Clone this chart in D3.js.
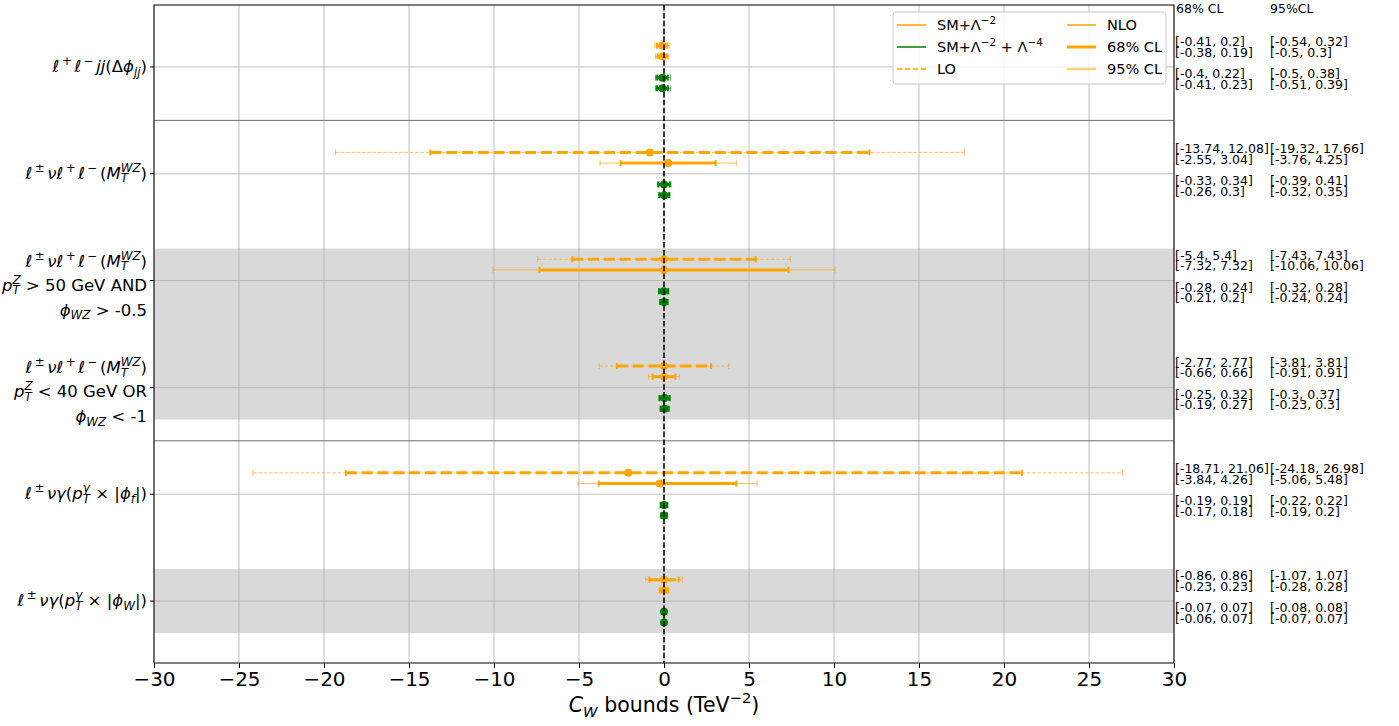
<!DOCTYPE html>
<html>
<head>
<meta charset="utf-8">
<script src="https://cdn.jsdelivr.net/npm/d3@7"></script>
<style>
body { margin: 0; background: #fff; }
text { font-family: "DejaVu Sans", sans-serif; fill: #000; }
</style>
</head>
<body>
<svg id="chart" width="1399" height="726"></svg>
<script>
// intervals, one entry per category (top to bottom)
var lo68 = [[-0.41, 0.2], [-13.74, 12.08], [-5.4, 5.4], [-2.77, 2.77], [-18.71, 21.06], [-0.86, 0.86]];
var lo95 = [[-0.54, 0.32], [-19.32, 17.66], [-7.43, 7.43], [-3.81, 3.81], [-24.18, 26.98], [-1.07, 1.07]];
var nlo68 = [[-0.38, 0.19], [-2.55, 3.04], [-7.32, 7.32], [-0.66, 0.66], [-3.84, 4.26], [-0.23, 0.23]];
var nlo95 = [[-0.5, 0.3], [-3.76, 4.25], [-10.06, 10.06], [-0.91, 0.91], [-5.06, 5.48], [-0.28, 0.28]];
var quadLo68 = [[-0.4, 0.22], [-0.33, 0.34], [-0.28, 0.24], [-0.25, 0.32], [-0.19, 0.19], [-0.07, 0.07]];
var quadLo95 = [[-0.5, 0.38], [-0.39, 0.41], [-0.32, 0.28], [-0.3, 0.37], [-0.22, 0.22], [-0.08, 0.08]];
var quadNlo68 = [[-0.41, 0.23], [-0.26, 0.3], [-0.21, 0.2], [-0.19, 0.27], [-0.17, 0.18], [-0.06, 0.07]];
var quadNlo95 = [[-0.51, 0.39], [-0.32, 0.35], [-0.24, 0.24], [-0.23, 0.3], [-0.19, 0.2], [-0.07, 0.07]];
// best fit points (estimated from the dots)
var loBest = [-0.1, -0.83, 0, 0, -2.1, 0];
var nloBest = [-0.1, 0.25, 0, 0, -0.25, 0];
var quadLoBest = [-0.09, 0, -0.02, 0.03, 0, 0];
var quadNloBest = [-0.09, 0.02, 0, 0.04, 0, 0];

var xTicks = [-30, -25, -20, -15, -10, -5, 0, 5, 10, 15, 20, 25, 30];
var groupSeparators = [0.5, 3.5];
var shadedBands = [[1.7, 3.3], [4.7, 5.3]];

// category labels, each line is a list of tokens
var lepMT = [{t: "ℓ", it: 1}, {t: "±", pos: "sup"}, {t: "ν", it: 1}, {t: "ℓ", it: 1}, {t: "+", pos: "sup"}, {t: "ℓ", it: 1}, {t: "−", pos: "sup"},
  {t: "("}, {t: "M", it: 1}, {sub: {t: "T", it: 1}, sup: {t: "WZ", it: 1}}, {t: ")"}];
var catLabels = [
  [[{t: "ℓ", it: 1}, {t: "+", pos: "sup"}, {t: "ℓ", it: 1}, {t: "−", pos: "sup"}, {t: "jj", it: 1}, {t: "(Δ"}, {t: "ϕ", it: 1}, {t: "jj", it: 1, pos: "sub"}, {t: ")"}]],
  [lepMT],
  [lepMT, [{t: "p", it: 1}, {sub: {t: "T", it: 1}, sup: {t: "Z", it: 1}}, {t: " > 50 GeV AND"}], [{t: "ϕ", it: 1}, {t: "WZ", it: 1, pos: "sub"}, {t: " > -0.5"}]],
  [lepMT, [{t: "p", it: 1}, {sub: {t: "T", it: 1}, sup: {t: "Z", it: 1}}, {t: " < 40 GeV OR"}], [{t: "ϕ", it: 1}, {t: "WZ", it: 1, pos: "sub"}, {t: " < -1"}]],
  [[{t: "ℓ", it: 1}, {t: "±", pos: "sup"}, {t: "νγ", it: 1}, {t: "("}, {t: "p", it: 1}, {sub: {t: "T", it: 1}, sup: {t: "γ", it: 1}}, {t: " × |"}, {t: "ϕ", it: 1}, {t: "f", it: 1, pos: "sub"}, {t: "|)"}]],
  [[{t: "ℓ", it: 1}, {t: "±", pos: "sup"}, {t: "νγ", it: 1}, {t: "("}, {t: "p", it: 1}, {sub: {t: "T", it: 1}, sup: {t: "γ", it: 1}}, {t: " × |"}, {t: "ϕ", it: 1}, {t: "W", it: 1, pos: "sub"}, {t: "|)"}]]
];

var orange = "#ffa500", green = "#008000";

var svg = d3.select("#chart");
var margin = {left: 154, right: 1174, top: 5, bottom: 663};

var x = d3.scaleLinear().domain([-30, 30]).range([margin.left, margin.right]);
var y = d3.scaleLinear().domain([-0.58, 5.58]).range([margin.top, margin.bottom]);

// little rich text helper (italic, super and subscripts)
function rich(parent, tokens, size, supGap) {
  var g = parent.append("g");
  var cx = 0;
  supGap = supGap || 0;
  function piece(tk, px, pos) {
    var fs = pos ? size * 0.72 : size;
    var dy = pos == "sup" ? -0.42 * size : (pos == "sub" ? 0.22 * size : 0);
    var el = g.append("text").attr("x", px).attr("y", dy)
      .style("font-size", fs + "px")
      .style("font-style", tk.it ? "italic" : "normal")
      .attr("xml:space", "preserve")
      .text(tk.t);
    return el.node().getComputedTextLength();
  }
  tokens.forEach(function (tk) {
    if (tk.sub || tk.sup) {
      var w1 = piece(tk.sub, cx, "sub");
      var w2 = piece(tk.sup, cx, "sup");
      cx += Math.max(w1, w2);
    } else if (tk.pos == "sup") {
      cx += supGap;
      cx += piece(tk, cx, tk.pos) + supGap;
    } else {
      cx += piece(tk, cx, tk.pos);
    }
  });
  return {g: g, width: cx};
}

// shaded bands
svg.append("g").selectAll("rect").data(shadedBands).enter().append("rect")
  .attr("x", margin.left).attr("width", margin.right - margin.left)
  .attr("y", function (d) { return y(d[0]); })
  .attr("height", function (d) { return y(d[1]) - y(d[0]); })
  .attr("fill", "#d9d9d9");

// grid
var grid = svg.append("g").attr("stroke", "#b0b0b0").attr("stroke-width", 0.8);
grid.selectAll("line.v").data(xTicks).enter().append("line")
  .attr("x1", function (d) { return x(d); }).attr("x2", function (d) { return x(d); })
  .attr("y1", margin.top).attr("y2", margin.bottom);
grid.selectAll("line.h").data(d3.range(catLabels.length)).enter().append("line")
  .attr("x1", margin.left).attr("x2", margin.right)
  .attr("y1", function (d) { return y(d); }).attr("y2", function (d) { return y(d); });

svg.append("g").selectAll("line").data(groupSeparators).enter().append("line")
  .attr("x1", margin.left).attr("x2", margin.right)
  .attr("y1", function (d) { return y(d); }).attr("y2", function (d) { return y(d); })
  .attr("stroke", "#6e6e6e").attr("stroke-width", 1);

// error bars
var bars = svg.append("g");
function errRow(yv, c68, c95, best, color, dashed) {
  var yp = y(yv);
  bars.append("line").attr("x1", x(c95[0])).attr("x2", x(c95[1])).attr("y1", yp).attr("y2", yp)
    .attr("stroke", color).attr("stroke-width", 1).attr("stroke-opacity", 0.65)
    .attr("stroke-dasharray", dashed ? "3.7,1.6" : null);
  c95.forEach(function (v) {
    bars.append("line").attr("x1", x(v)).attr("x2", x(v)).attr("y1", yp - 3).attr("y2", yp + 3)
      .attr("stroke", color).attr("stroke-width", 1).attr("stroke-opacity", 0.65);
  });
  bars.append("line").attr("x1", x(c68[0])).attr("x2", x(c68[1])).attr("y1", yp).attr("y2", yp)
    .attr("stroke", color).attr("stroke-width", 3)
    .attr("stroke-dasharray", dashed ? "11,4.8" : null);
  c68.forEach(function (v) {
    bars.append("line").attr("x1", x(v)).attr("x2", x(v)).attr("y1", yp - 3).attr("y2", yp + 3)
      .attr("stroke", color).attr("stroke-width", 2);
  });
  bars.append("circle").attr("cx", x(best)).attr("cy", yp).attr("r", 4).attr("fill", color);
}

function fmt(c) { return "[" + c[0] + ", " + c[1] + "]"; }
var side = svg.append("g").style("font-size", "12.5px");

catLabels.forEach(function (lab, i) {
  var rows = [
    [i - 0.2, lo68[i], lo95[i], loBest[i], orange, true],
    [i - 0.1, nlo68[i], nlo95[i], nloBest[i], orange, false],
    [i + 0.1, quadLo68[i], quadLo95[i], quadLoBest[i], green, true],
    [i + 0.2, quadNlo68[i], quadNlo95[i], quadNloBest[i], green, false]
  ];
  rows.forEach(function (r) {
    errRow(r[0], r[1], r[2], r[3], r[4], r[5]);
    side.append("text").attr("x", 1175).attr("y", y(r[0]) + 0.5).text(fmt(r[1]));
    side.append("text").attr("x", 1270).attr("y", y(r[0]) + 0.5).text(fmt(r[2]));
  });
});

side.append("text").attr("x", 1176).attr("y", 13).text("68% CL");
side.append("text").attr("x", 1270).attr("y", 13).text("95%CL");

// zero line
svg.append("line").attr("x1", x(0)).attr("x2", x(0)).attr("y1", margin.top).attr("y2", margin.bottom)
  .attr("stroke", "#000").attr("stroke-width", 1.5).attr("stroke-dasharray", "5.5,2.4");

// frame
svg.append("rect").attr("x", margin.left).attr("y", margin.top)
  .attr("width", margin.right - margin.left).attr("height", margin.bottom - margin.top)
  .attr("fill", "none").attr("stroke", "#000").attr("stroke-width", 1);

// x axis
var xAxis = d3.axisBottom(x).tickValues(xTicks).tickSize(5).tickPadding(4)
  .tickFormat(function (d) { return d < 0 ? "−" + Math.abs(d) : d; });
var xg = svg.append("g").attr("transform", "translate(0," + margin.bottom + ")").call(xAxis);
xg.select(".domain").remove();
xg.selectAll("text").style("font-size", "20px").style("font-family", "DejaVu Sans").attr("fill", "#000");

var title = rich(svg, [{t: "C", it: 1}, {t: "W", it: 1, pos: "sub"}, {t: " bounds (TeV"}, {t: "−2", pos: "sup"}, {t: ")"}], 20.5);
title.g.attr("transform", "translate(" + (x(0) - title.width / 2) + ",712)");

// y labels
var yTicks = svg.append("g");
catLabels.forEach(function (lines, i) {
  var ty = y(i);
  yTicks.append("line").attr("x1", margin.left - 4).attr("x2", margin.left).attr("y1", ty).attr("y2", ty)
    .attr("stroke", "#000").attr("stroke-width", 1);
  var base = lines.length == 1 ? [5] : [-14, 10, 35];
  lines.forEach(function (ln, k) {
    var r = rich(yTicks, ln, 16.5, 2.5);
    r.g.attr("transform", "translate(" + (147 - r.width) + "," + (ty + base[k]) + ")");
  });
});

// legend
var leg = svg.append("g");
leg.append("rect").attr("x", 893).attr("y", 12).attr("width", 273).attr("height", 72).attr("rx", 3)
  .attr("fill", "#fff").attr("fill-opacity", 0.8).attr("stroke", "#cccccc");
var legItems = [
  {x: 897, y: 25, color: orange, w: 1.5, dash: null, op: 1, label: [{t: "SM+Λ"}, {t: "−2", pos: "sup"}]},
  {x: 897, y: 47, color: green, w: 1.5, dash: null, op: 1, label: [{t: "SM+Λ"}, {t: "−2", pos: "sup"}, {t: " + Λ"}, {t: "−4", pos: "sup"}]},
  {x: 897, y: 69, color: orange, w: 1.5, dash: "5.5,2.4", op: 1, label: [{t: "LO"}]},
  {x: 1067, y: 25, color: orange, w: 1.5, dash: null, op: 1, label: [{t: "NLO"}]},
  {x: 1067, y: 47, color: orange, w: 3, dash: null, op: 1, label: [{t: "68% CL"}]},
  {x: 1067, y: 69, color: orange, w: 2.5, dash: null, op: 0.5, label: [{t: "95% CL"}]}
];
legItems.forEach(function (d) {
  leg.append("line").attr("x1", d.x).attr("x2", d.x + 29).attr("y1", d.y).attr("y2", d.y)
    .attr("stroke", d.color).attr("stroke-width", d.w).attr("stroke-opacity", d.op)
    .attr("stroke-dasharray", d.dash);
  var r = rich(leg, d.label, 14.5);
  r.g.attr("transform", "translate(" + (d.x + 40) + "," + (d.y + 5) + ")");
});
</script>
</body>
</html>
